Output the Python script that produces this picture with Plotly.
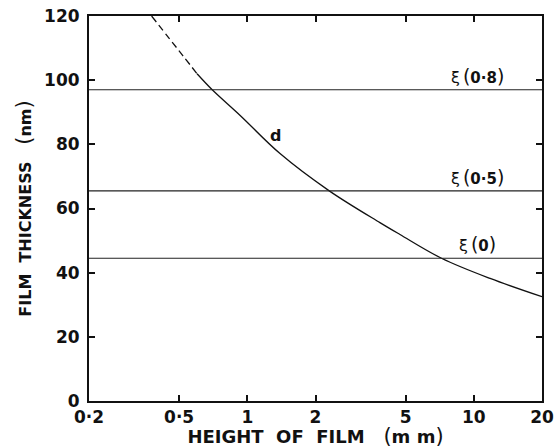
import math
import plotly.graph_objects as go

# ---- data ----
height_dashed = [0.378, 0.45, 0.52, 0.6]
thick_dashed = [120, 113.2, 107.6, 102]
height_solid = [0.6, 0.7, 0.93, 1.39, 2.3, 3.85, 4.72, 7.2, 11.8, 20]
thick_solid = [102, 97, 89, 77.2, 65.5, 55.6, 51.9, 44.5, 38.2, 32.5]
xi_levels = [97, 65.5, 44.5]
xi_labels = ["0·8", "0·5", "0"]
x_tickvals = [0.2, 0.5, 1, 2, 5, 10, 20]
x_ticktext = ["0·2", "0·5", "1", "2", "5", "10", "20"]
y_tickvals = [0, 20, 40, 60, 80, 100, 120]

FONT = "DejaVu Sans, Arial, sans-serif"
INK = "#111111"

fig = go.Figure()

fig.add_trace(go.Scatter(
    x=height_dashed, y=thick_dashed, mode="lines",
    line=dict(color=INK, width=1.3, dash="7px,4px", shape="spline"),
    showlegend=False, hoverinfo="skip"))
fig.add_trace(go.Scatter(
    x=height_solid, y=thick_solid, mode="lines",
    line=dict(color=INK, width=1.3, shape="spline"),
    showlegend=False, hoverinfo="skip"))

# horizontal xi levels, spanning the whole axis range
for lvl in xi_levels:
    fig.add_trace(go.Scatter(
        x=[x_tickvals[0], x_tickvals[-1]], y=[lvl, lvl], mode="lines",
        line=dict(color="#222222", width=1.1),
        showlegend=False, hoverinfo="skip"))

paren = "<span style='font-size:19px;font-weight:normal'>{}</span>"
for lvl, lab in zip(xi_levels, xi_labels):
    fig.add_annotation(
        x=math.log10(10.4), y=lvl, xref="x", yref="y",
        xanchor="center", yanchor="bottom",
        text="<span style='font-size:16px'>ξ</span>\u2009" + paren.format("(")
             + "<b>" + lab + "</b>" + paren.format(")"),
        showarrow=False, yshift=1,
        font=dict(family=FONT, size=15, color=INK))

fig.add_annotation(x=math.log10(1.33), y=82.6, xref="x", yref="y", text="<b>d</b>",
                   showarrow=False, font=dict(family=FONT, size=16, color=INK))

axis_common = dict(
    showgrid=False, zeroline=False, showline=True, linewidth=2, linecolor=INK,
    mirror="ticks", ticks="inside", ticklen=6, tickwidth=2, tickcolor=INK,
    tickfont=dict(family=FONT, size=17, color=INK, weight="bold"),
    automargin=False,
)

bigparen = "<span style='font-size:21px;font-weight:normal'>{}</span>"
fig.update_xaxes(
    type="log", range=[math.log10(x_tickvals[0]), math.log10(x_tickvals[-1])],
    tickvals=x_tickvals, ticktext=x_ticktext, ticklabelstandoff=0,
    title=dict(text="HEIGHT\u00a0\u00a0OF\u00a0\u00a0FILM\u00a0\u00a0\u00a0" + bigparen.format("(")
               + "m\u00a0m" + bigparen.format(")"),
               font=dict(family=FONT, size=18, color=INK, weight="bold"), standoff=0),
    **axis_common)
fig.update_yaxes(
    range=[0, 120], tickvals=y_tickvals,
    ticklabelstandoff=4,
    title=dict(text="FILM\u00a0\u00a0THICKNESS\u00a0\u00a0\u00a0" + bigparen.format("(")
               + "nm" + bigparen.format(")"),
               font=dict(family=FONT, size=16, color=INK, weight="bold"), standoff=8),
    **axis_common)

fig.update_layout(
    width=557, height=448,
    margin=dict(l=89, r=15, t=16, b=47),
    paper_bgcolor="white", plot_bgcolor="white",
    font=dict(family=FONT, color=INK),
)

fig.write_html("out.html", config={"displayModeBar": False},
               post_script="document.body.style.margin='0px';document.body.style.overflow='hidden';")
